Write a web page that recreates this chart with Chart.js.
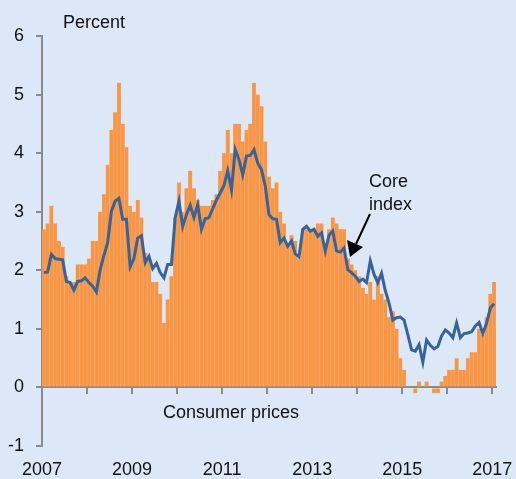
<!DOCTYPE html>
<html>
<head>
<meta charset="utf-8">
<script src="https://cdn.jsdelivr.net/npm/chart.js@4"></script>
<style>
	html, body { margin: 0; padding: 0; background: #dce8f7; }
	#wrap { width: 516px; height: 479px; }
</style>
</head>
<body>
<div id="wrap"><canvas id="cpiChart" width="516" height="479"></canvas></div>
<script>
// 데이터 (월별, 2007년 1월 ~ 2017년 1월)
const startYear = 2007;
const cpi = [
	2.7, 2.8, 3.1, 2.8, 2.5, 2.4, 1.9, 1.8, 1.8, 2.1, 2.1, 2.1,
	2.2, 2.5, 2.5, 3.0, 3.3, 3.8, 4.4, 4.7, 5.2, 4.5, 4.1, 3.1,
	3.0, 3.2, 2.9, 2.3, 2.2, 1.8, 1.8, 1.6, 1.1, 1.5, 1.9, 2.9,
	3.5, 3.0, 3.4, 3.7, 3.4, 3.2, 3.1, 3.1, 3.1, 3.2, 3.3, 3.7,
	4.0, 4.4, 4.0, 4.5, 4.5, 4.2, 4.4, 4.5, 5.2, 5.0, 4.8, 4.2,
	3.6, 3.4, 3.5, 3.0, 2.8, 2.4, 2.6, 2.5, 2.2, 2.7, 2.7, 2.7,
	2.7, 2.8, 2.8, 2.4, 2.7, 2.9, 2.8, 2.7, 2.7, 2.2, 2.1, 2.0,
	1.9, 1.7, 1.6, 1.8, 1.5, 1.9, 1.6, 1.5, 1.2, 1.3, 1.0, 0.5,
	0.3, 0.0, 0.0, -0.1, 0.1, 0.0, 0.1, 0.0, -0.1, -0.1, 0.1, 0.2,
	0.3, 0.3, 0.5, 0.3, 0.3, 0.5, 0.6, 0.6, 1.0, 0.9, 1.2, 1.6,
	1.8
];
const core = [
	1.96, 1.97, 2.27, 2.20, 2.19, 2.18, 1.81, 1.79, 1.66, 1.81, 1.82, 1.87,
	1.79, 1.73, 1.63, 2.01, 2.25, 2.47, 3.01, 3.18, 3.23, 2.87, 2.87, 2.06,
	2.20, 2.55, 2.59, 2.13, 2.24, 2.03, 2.12, 1.96, 1.87, 2.10, 2.10, 2.90,
	3.18, 2.75, 2.95, 3.11, 2.90, 3.12, 2.70, 2.88, 2.90, 3.05, 3.20, 3.32,
	3.45, 3.70, 3.37, 4.06, 3.89, 3.63, 3.95, 3.96, 4.06, 3.83, 3.72, 3.44,
	2.95, 2.88, 2.87, 2.47, 2.55, 2.41, 2.50, 2.28, 2.23, 2.70, 2.75, 2.67,
	2.70, 2.58, 2.64, 2.33, 2.60, 2.67, 2.33, 2.31, 2.38, 2.01, 1.96, 1.90,
	1.81, 1.85, 1.79, 2.16, 1.93, 1.79, 1.95, 1.65, 1.44, 1.15, 1.19, 1.20,
	1.15, 0.90, 0.64, 0.62, 0.73, 0.43, 0.81, 0.72, 0.66, 0.70, 0.88, 0.98,
	0.93, 0.85, 1.10, 0.85, 0.92, 0.93, 0.95, 1.05, 1.11, 0.92, 1.10, 1.36,
	1.43
];
const yTicks = [-1, 0, 1, 2, 3, 4, 5, 6];
const yearTicks = [2007, 2008, 2009, 2010, 2011, 2012, 2013, 2014, 2015, 2016, 2017];
const yearLabels = [2007, 2009, 2011, 2013, 2015, 2017];

const monthPos = (i) => i + 0.5;
const yearPos = (y) => (y - startYear) * 12;

const axisGray = '#8a8a8a';
const textColor = '#111111';
const fontFamily = '"Liberation Sans", Arial, sans-serif';

// 배경 + 주석 텍스트
const annotate = {
	id: 'annotate',
	beforeDraw: (chart) => {
		const c = chart.ctx;
		c.save();
		c.fillStyle = '#dce8f7';
		c.fillRect(0, 0, chart.width, chart.height);
		c.restore();
	},
	afterDraw: (chart) => {
		const c = chart.ctx;
		c.save();
		c.fillStyle = textColor;
		c.font = '18px ' + fontFamily;
		c.textAlign = 'left';
		c.textBaseline = 'alphabetic';
		c.fillText('Percent', 63, 28);
		c.fillText('Consumer prices', 163, 418);
		c.fillText('Core', 369, 187);
		c.fillText('index', 369, 210);

		// 화살표
		c.strokeStyle = '#000';
		c.lineWidth = 2;
		c.beginPath();
		c.moveTo(370, 214);
		c.lineTo(356, 244);
		c.stroke();
		c.beginPath();
		c.moveTo(350, 257);
		c.lineTo(347, 240);
		c.lineTo(363, 247);
		c.closePath();
		c.fillStyle = '#000';
		c.fill();
		c.restore();
	}
};

const ctx = document.getElementById('cpiChart').getContext('2d');
const myChart = new Chart(ctx, {
	type: 'bar',
	data: {
		datasets: [{
			type: 'line',
			label: 'Core index',
			data: core.map((v, i) => ({ x: monthPos(i), y: v })),
			borderColor: '#35639a',
			borderWidth: 3,
			pointRadius: 0,
			tension: 0,
			xAxisID: 'x',
			yAxisID: 'y'
		}, {
			label: 'Consumer prices',
			data: cpi.map((v, i) => ({ x: monthPos(i), y: v })),
			backgroundColor: '#f79646',
			borderColor: '#f9ad6c',
			borderWidth: { left: 0.5, right: 0.5, top: 0, bottom: 0 },
			borderSkipped: false,
			barPercentage: 1,
			categoryPercentage: 1,
			xAxisID: 'x',
			yAxisID: 'y'
		}]
	},
	options: {
		responsive: false,
		animation: false,
		devicePixelRatio: 1,
		layout: { padding: { top: 36, right: 20, left: 0, bottom: 0 } },
		plugins: {
			legend: { display: false },
			tooltip: { enabled: false }
		},
		scales: {
			x: {
				type: 'linear',
				position: { y: 0 },
				offset: false,
				min: 0,
				max: cpi.length,
				afterBuildTicks: (scale) => {
					scale.ticks = yearTicks.map(y => ({ value: yearPos(y) }));
				},
				ticks: { display: false },
				grid: {
					offset: false,
					drawOnChartArea: false,
					drawTicks: true,
					tickLength: 6,
					color: axisGray,
					lineWidth: 2
				},
				border: { color: axisGray, width: 2 }
			},
			x2: {
				type: 'linear',
				position: 'bottom',
				offset: false,
				min: 0,
				max: cpi.length,
				afterBuildTicks: (scale) => {
					scale.ticks = yearLabels.map(y => ({ value: yearPos(y) }));
				},
				afterFit: (scale) => {
					scale.height = 33;
					scale.paddingLeft = 0;
					scale.paddingRight = 0;
				},
				ticks: {
					color: textColor,
					font: { size: 18, family: fontFamily },
					padding: 13,
					maxRotation: 0,
					autoSkip: false,
					callback: (v) => String(startYear + v / 12)
				},
				grid: { display: false, drawTicks: false, offset: false },
				border: { display: false }
			},
			y: {
				min: -1,
				max: 6,
				afterBuildTicks: (scale) => {
					scale.ticks = yTicks.map(v => ({ value: v }));
				},
				afterFit: (scale) => { scale.width = 42; },
				ticks: {
					color: textColor,
					font: { size: 18, family: fontFamily },
					padding: 12
				},
				grid: {
					drawOnChartArea: false,
					drawTicks: true,
					tickLength: 6,
					color: axisGray,
					lineWidth: 2
				},
				border: { color: axisGray, width: 2 }
			}
		}
	},
	plugins: [annotate]
});
</script>
</body>
</html>
